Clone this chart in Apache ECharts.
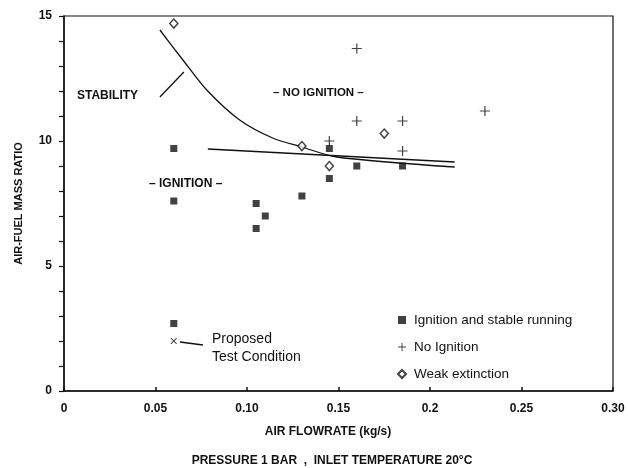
<!DOCTYPE html>
<html><head><meta charset="utf-8">
<script src="https://cdn.jsdelivr.net/npm/echarts@6/dist/echarts.min.js"></script>
<style>html,body{margin:0;padding:0;background:#fff}#c{width:628px;height:468px}</style>
</head><body><div id="c"></div>
<script>
var xTicks = [0, 0.05, 0.10, 0.15, 0.2, 0.25, 0.30];
var xTickLabels = ['0', '0.05', '0.10', '0.15', '0.2', '0.25', '0.30'];
var yTickLabels = ['0', '5', '10', '15'];

var ignitionX = [0.060, 0.060, 0.060, 0.105, 0.105, 0.110, 0.130, 0.145, 0.145, 0.160, 0.185];
var ignitionY = [9.7, 7.6, 2.7, 7.5, 6.5, 7.0, 7.8, 9.7, 8.5, 9.0, 9.0];

var noIgnX = [0.160, 0.160, 0.185, 0.185, 0.145, 0.230];
var noIgnY = [13.7, 10.8, 10.8, 9.6, 10.0, 11.2];

var weakX = [0.060, 0.130, 0.145, 0.175];
var weakY = [14.7, 9.8, 9.0, 10.3];

var testX = [0.060];
var testY = [2.0];

var curveX = [0.0524, 0.065, 0.078, 0.096, 0.114, 0.130, 0.149, 0.2135];
var curveY = [14.44, 13.24, 12.04, 10.84, 10.12, 9.76, 9.36, 8.96];

var flatX = [0.0786, 0.2135];
var flatY = [9.68, 9.16];

var stabLeaderX = [0.0524, 0.0655];
var stabLeaderY = [11.76, 12.76];

var testLeaderX = [0.0634, 0.0759];
var testLeaderY = [1.96, 1.84];

function zip(a, b) { return a.map(function (v, i) { return [v, b[i]]; }); }

var plusPath = 'path://M4.4,0h1.2v4.4h4.4v1.2h-4.4v4.4h-1.2v-4.4h-4.4v-1.2h4.4z';
var INK = '#111';
var boldFont = 'Liberation Sans, Arial, sans-serif';
var narrowFont = '"Liberation Sans Narrow", "Arial Narrow", "Liberation Sans", sans-serif';

var chart = echarts.init(document.getElementById('c'));
chart.setOption({
  animation: false,
  backgroundColor: '#fff',
  grid: { left: 64, right: 15, top: 16, bottom: 77, show: true, borderColor: INK, borderWidth: 1.2, backgroundColor: 'transparent' },
  xAxis: {
    type: 'value', min: 0, max: 0.30, interval: 0.05,
    axisLine: { lineStyle: { color: INK, width: 1.5 } },
    axisTick: { inside: true, length: 4, lineStyle: { color: INK, width: 1.5 } },
    splitLine: { show: false },
    axisLabel: {
      margin: 12, color: INK, fontSize: 12, fontWeight: 'bold', fontFamily: boldFont,
      formatter: function (v) {
        for (var i = 0; i < xTicks.length; i++) if (Math.abs(xTicks[i] - v) < 1e-9) return xTickLabels[i];
        return '';
      }
    }
  },
  yAxis: {
    type: 'value', min: 0, max: 15, interval: 5,
    name: 'AIR-FUEL MASS RATIO', nameLocation: 'middle', nameGap: 40, nameRotate: 90,
    nameTextStyle: { color: INK, fontSize: 11, fontWeight: 'bold', fontFamily: boldFont },
    axisLine: { lineStyle: { color: INK, width: 1.5 } },
    axisTick: { length: 5, lineStyle: { color: INK, width: 1.2 } },
    minorTick: { show: true, splitNumber: 5, length: 5, lineStyle: { color: INK, width: 1.2 } },
    splitLine: { show: false },
    axisLabel: {
      margin: 12, color: INK, fontSize: 12, fontWeight: 'bold', fontFamily: boldFont,
      formatter: function (v) { return yTickLabels[Math.round(v / 5)] || ''; }
    }
  },
  legend: {
    data: ['Ignition and stable running', 'No Ignition', 'Weak extinction'],
    orient: 'vertical', left: 392, top: 308, itemWidth: 8, itemHeight: 8, itemGap: 13,
    textStyle: { color: INK, fontSize: 13.5, fontFamily: narrowFont, padding: [0, 0, 0, 3] }
  },
  graphic: [
    { type: 'text', left: 77, top: 90, style: { text: 'STABILITY', font: 'bold 12px ' + boldFont, fill: INK } },
    { type: 'text', left: 273, top: 87, style: { text: '\u2013 NO IGNITION \u2013', font: 'bold 11.5px ' + boldFont, fill: INK } },
    { type: 'text', left: 149, top: 178, style: { text: '\u2013 IGNITION \u2013', font: 'bold 12px ' + boldFont, fill: INK } },
    { type: 'text', left: 212, top: 330, style: { text: 'Proposed\nTest Condition', font: '14px ' + narrowFont, lineHeight: 18, fill: INK } },
    { type: 'text', x: 328, y: 426, style: { text: 'AIR FLOWRATE (kg/s)', font: 'bold 12px ' + boldFont, fill: INK, textAlign: 'center' } },
    { type: 'text', x: 332, y: 455, style: { text: 'PRESSURE 1 BAR  ,  INLET TEMPERATURE 20\u00B0C', font: 'bold 12px ' + boldFont, fill: INK, textAlign: 'center' } }
  ],
  series: [
    { name: 'Ignition and stable running', type: 'scatter', data: zip(ignitionX, ignitionY), symbol: 'rect', symbolSize: 7, itemStyle: { color: INK } },
    { name: 'No Ignition', type: 'scatter', data: zip(noIgnX, noIgnY), symbol: plusPath, symbolSize: 10, itemStyle: { color: INK } },
    { name: 'Weak extinction', type: 'scatter', data: zip(weakX, weakY), symbol: 'diamond', symbolSize: [8, 9], itemStyle: { color: '#fff', borderColor: INK, borderWidth: 1.5 } },
    { name: 'Test', type: 'scatter', data: zip(testX, testY), symbol: plusPath, symbolRotate: 45, symbolSize: 8, itemStyle: { color: INK } },
    { name: 'curve', type: 'line', data: zip(curveX, curveY), smooth: 0.3, symbol: 'none', lineStyle: { color: INK, width: 1.3 }, z: 1 },
    { name: 'flat', type: 'line', data: zip(flatX, flatY), symbol: 'none', lineStyle: { color: INK, width: 1.3 }, z: 1 },
    { name: 'stabLeader', type: 'line', data: zip(stabLeaderX, stabLeaderY), symbol: 'none', lineStyle: { color: INK, width: 1.3 } },
    { name: 'testLeader', type: 'line', data: zip(testLeaderX, testLeaderY), symbol: 'none', lineStyle: { color: INK, width: 1.3 } }
  ]
});
</script></body></html>
